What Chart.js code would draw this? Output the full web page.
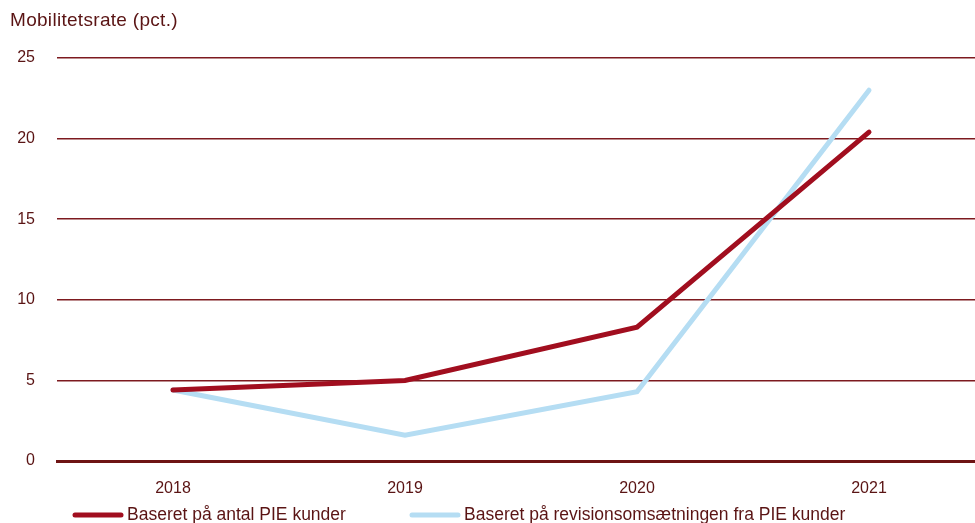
<!DOCTYPE html>
<html>
<head>
<meta charset="utf-8">
<script src="https://cdn.jsdelivr.net/npm/chart.js@4"></script>
<style>
  html, body { margin: 0; padding: 0; overflow: hidden; background: #fff; }
  #wrap { width: 990px; height: 523px; position: relative; }
</style>
</head>
<body>
<div id="wrap"><canvas id="grafico"></canvas></div>
<script>
/* DATA */
const aar = ["2018", "2019", "2020", "2021"];
const antalPIE = [4.4, 5.0, 8.3, 20.4];
const omsaetningPIE = [4.4, 1.6, 4.3, 23.0];
const yTicks = [0, 5, 10, 15, 20, 25];

const tekstFarve = "#5a1414";
const gitterFarve = "#7d1a1f";
const fontFamilie = "'Liberation Sans', Arial, sans-serif";
const font = { family: fontFamilie, size: 16 };

/* Titel oppe i venstre hjorne */
const titelPlugin = {
    id: "titel",
    afterDraw(chart) {
        const ctx = chart.ctx;
        ctx.save();
        ctx.fillStyle = tekstFarve;
        ctx.font = "19px " + fontFamilie;
        ctx.letterSpacing = "0.3px";
        ctx.textBaseline = "middle";
        ctx.fillText("Mobilitetsrate (pct.)", 10, 21);
        ctx.restore();
    }
};

/* Forklaring nederst (tegnet ud fra datasaettene) */
const legendeStart = [73, 410];
const legendePlugin = {
    id: "legende",
    afterDraw(chart) {
        const ctx = chart.ctx;
        const y = 515;
        ctx.save();
        chart.data.datasets.forEach((ds, i) => {
            const x = legendeStart[i];
            ctx.strokeStyle = ds.borderColor;
            ctx.lineWidth = 5;
            ctx.lineCap = "round";
            ctx.beginPath();
            ctx.moveTo(x + 2, y);
            ctx.lineTo(x + 48, y);
            ctx.stroke();
            ctx.fillStyle = tekstFarve;
            ctx.font = "17.5px " + fontFamilie;
            ctx.textBaseline = "middle";
            ctx.fillText(ds.label, x + 54, y);
        });
        ctx.restore();
    }
};

new Chart(document.getElementById("grafico"), {
    type: "line",
    data: {
        labels: aar,
        datasets: [{
            label: "Baseret på antal PIE kunder",
            data: antalPIE,
            borderColor: "#a10e1f",
            backgroundColor: "#a10e1f",
            borderWidth: 5,
            pointRadius: 0,
            borderCapStyle: "round",
            fill: false
        }, {
            label: "Baseret på revisionsomsætningen fra PIE kunder",
            data: omsaetningPIE,
            borderColor: "#b5ddf3",
            backgroundColor: "#b5ddf3",
            borderWidth: 5,
            pointRadius: 0,
            borderCapStyle: "round",
            fill: false
        }]
    },
    options: {
        responsive: true,
        maintainAspectRatio: false,
        animation: false,
        layout: { padding: { top: 58, right: 5, left: 0, bottom: 0 } },
        plugins: {
            tooltip: { enabled: false },
            legend: { display: false }
        },
        scales: {
            x: {
                offset: true,
                afterFit(scale) { scale.height = 62; },
                grid: { display: false },
                border: { color: "#6e1414", width: 3 },
                ticks: { color: tekstFarve, font: font, padding: 10 }
            },
            y: {
                min: 0,
                max: 25,
                afterFit(scale) { scale.width = 57; },
                afterBuildTicks(scale) { scale.ticks = yTicks.map(v => ({ value: v })); },
                grid: { color: gitterFarve, lineWidth: 1.5, drawTicks: false },
                border: { display: false },
                ticks: { color: tekstFarve, font: font, padding: 22 }
            }
        }
    },
    plugins: [titelPlugin, legendePlugin]
});
</script>
</body>
</html>
